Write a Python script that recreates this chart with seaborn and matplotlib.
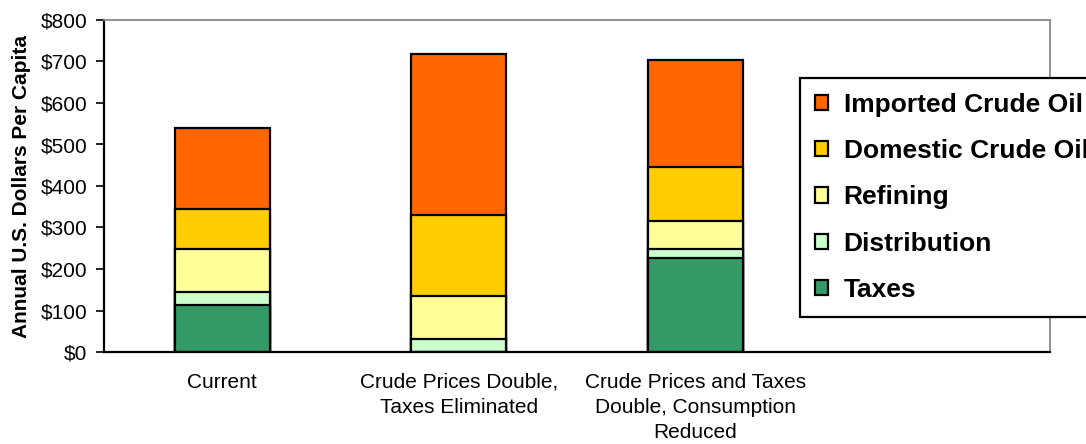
import matplotlib
matplotlib.use("Agg")
import matplotlib.pyplot as plt
from matplotlib.patches import Patch
from matplotlib.ticker import FuncFormatter
import seaborn as sns
import pandas as pd
import numpy as np

# Scenarios and per-capita cost components (US$ per year)
scenarios = [
    "Current",
    "Crude Prices Double,\nTaxes Eliminated",
    "Crude Prices and Taxes\nDouble, Consumption\nReduced",
]
taxes = [113, 0, 226]
distribution = [32, 32, 21]
refining = [103, 103, 68]
domestic_crude = [97, 195, 130]
imported_crude = [195, 388, 258]

components = ["Taxes", "Distribution", "Refining",
              "Domestic Crude Oil", "Imported Crude Oil"]
colors = ["#339966", "#CCFFCC", "#FFFF99", "#FFCC00", "#FF6600"]

df = pd.DataFrame({
    "Scenario": scenarios,
    "Taxes": taxes,
    "Distribution": distribution,
    "Refining": refining,
    "Domestic Crude Oil": domestic_crude,
    "Imported Crude Oil": imported_crude,
})

sns.set_theme(style="white")
plt.rcParams["font.family"] = ["Liberation Sans", "DejaVu Sans"]
plt.rcParams["text.color"] = "black"
plt.rcParams["axes.labelcolor"] = "black"
plt.rcParams["xtick.color"] = "black"
plt.rcParams["ytick.color"] = "black"

fig = plt.figure(figsize=(10.86, 4.44), dpi=100)
ax = fig.add_axes([104 / 1086, 92 / 444, 946 / 1086, 332 / 444])

# Stack by drawing cumulative totals from the top layer downwards
cum = df[components].cumsum(axis=1)
for comp, col in reversed(list(zip(components, colors))):
    sns.barplot(data=cum.assign(Scenario=df["Scenario"]), x="Scenario", y=comp,
                color=col, width=0.4, edgecolor="black", linewidth=1.6,
                saturation=1, errorbar=None, ax=ax, zorder=2)

ax.set_xlim(-0.5, 3.5)
ax.set_ylim(0, 800)
ax.set_yticks(np.arange(0, 801, 100))
ax.yaxis.set_major_formatter(FuncFormatter(lambda v, _: f"${v:,.0f}"))
ax.set_xlabel("")
ax.set_ylabel("Annual U.S. Dollars Per Capita", fontsize=15,
              fontweight="bold", labelpad=7, color="black")

ax.tick_params(axis="y", which="major", length=6, width=1.2, color="black",
               direction="out", left=True, pad=6, labelsize=15,
               labelcolor="black")
ax.tick_params(axis="x", length=0, pad=15, labelsize=15, labelcolor="black")
for lbl in ax.get_xticklabels():
    lbl.set_linespacing(1.42)

for side in ("left", "bottom"):
    ax.spines[side].set_color("black")
    ax.spines[side].set_linewidth(1.6)
for side in ("top", "right"):
    ax.spines[side].set_color("#888888")
    ax.spines[side].set_linewidth(1.3)

handles = [Patch(facecolor=c, edgecolor="black", linewidth=1.6, label=n)
           for n, c in zip(components, colors)][::-1]
leg = fig.legend(handles=handles, loc="upper left",
                 bbox_to_anchor=(800 / 1086, 1 - 78 / 444),
                 bbox_transform=fig.transFigure, borderaxespad=0,
                 prop={"weight": "bold", "size": 19},
                 handlelength=0.5, handleheight=0.5, handletextpad=0.6,
                 labelspacing=0.85, borderpad=0.55, fancybox=False,
                 framealpha=1, edgecolor="black")
leg.get_frame().set_linewidth(1.6)
for t in leg.get_texts():
    t.set_color("black")

fig.savefig("out.png", dpi=100, facecolor="white")
